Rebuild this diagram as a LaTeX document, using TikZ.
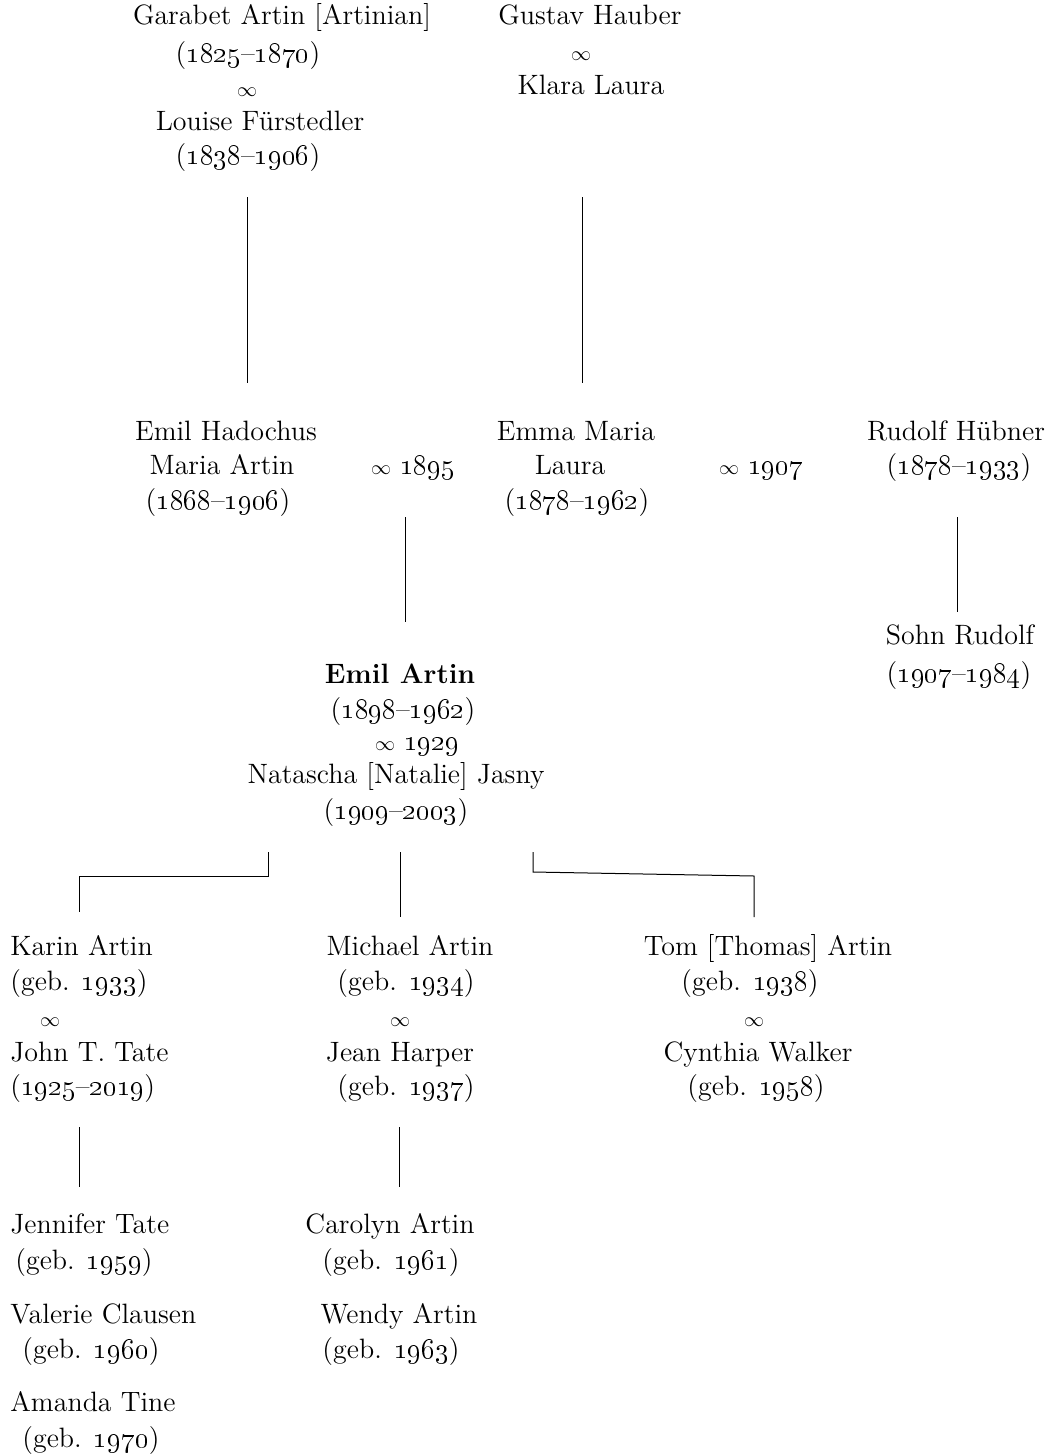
\documentclass[tikz,border=0pt]{standalone}
\newcommand\osn[1]{\oldstylenums{#1}}
\newcommand\inft{{\fontsize{10}{12}\selectfont$\infty$}}
\begin{document}
\begin{tikzpicture}[x=0.5pt,y=-0.5pt,
  txt/.style={font=\fontsize{14}{17}\selectfont, inner sep=0pt, anchor=base},
  lft/.style={txt, anchor=base west},
  conn/.style={line width=0.5pt}]
\useasboundingbox (0,0) rectangle (1057,1456);
% top generation
\node[txt] (g1) at (282,25) {Garabet Artin [Artinian]};
\node[txt] (g2) at (248,62) {(\osn{1825}--\osn{1870})};
\node[txt] (g3) at (247,96) {\inft};
\node[txt] (g4) at (260,130) {Louise Fürstedler};
\node[txt] (g5) at (248,164) {(\osn{1838}--\osn{1906})};
\node[txt] (h1) at (590,25) {Gustav Hauber};
\node[txt] (h2) at (581,61) {\inft};
\node[txt] (h3) at (591,94) {Klara Laura};
\coordinate (l1a) at (247,197); \coordinate (l1b) at (247,383);
\coordinate (l2a) at (582,197); \coordinate (l2b) at (582,383);
\draw[conn] (l1a) -- (l1b);
\draw[conn] (l2a) -- (l2b);
% second generation
\node[txt] (e1) at (226,440) {Emil Hadochus};
\node[txt] (e2) at (222,474) {Maria Artin};
\node[txt] (e3) at (218,509) {(\osn{1868}--\osn{1906})};
\node[txt] (m1) at (413,474) {\inft\ \osn{1895}};
\node[txt] (f1) at (576,440) {Emma Maria};
\node[txt] (f2) at (570,474) {Laura};
\node[txt] (f3) at (577,509) {(\osn{1878}--\osn{1962})};
\node[txt] (m2) at (761,474) {\inft\ \osn{1907}};
\node[txt] (r1) at (956,440) {Rudolf Hübner};
\node[txt] (r2) at (959,474) {(\osn{1878}--\osn{1933})};
\coordinate (l3a) at (405,517); \coordinate (l3b) at (405,622);
\coordinate (l4a) at (957,517); \coordinate (l4b) at (957,612);
\draw[conn] (l3a) -- (l3b);
\draw[conn] (l4a) -- (l4b);
\node[txt] (s1) at (960,644) {Sohn Rudolf};
\node[txt] (s2) at (959,682) {(\osn{1907}--\osn{1984})};
% Emil Artin
\node[txt] (a1) at (400,683) {\bfseries Emil Artin};
\node[txt] (a2) at (403,718) {(\osn{1898}--\osn{1962})};
\node[txt] (a3) at (417,750) {\inft\ \osn{1929}};
\node[txt] (a4) at (396,783) {Natascha [Natalie] Jasny};
\node[txt] (a5) at (396,819) {(\osn{1909}--\osn{2003})};
\coordinate (c1a) at (268,852); \coordinate (c1b) at (268,876);
\coordinate (c1c) at (79,876); \coordinate (c1d) at (79,912);
\draw[conn] (c1a) -- (c1b) -- (c1c) -- (c1d);
\coordinate (c2a) at (400,852); \coordinate (c2b) at (400,917);
\draw[conn] (c2a) -- (c2b);
\coordinate (c3a) at (533,852); \coordinate (c3b) at (533,872);
\coordinate (c3c) at (754,876); \coordinate (c3d) at (754,917);
\draw[conn] (c3a) -- (c3b) -- (c3c) -- (c3d);
% children
\node[lft] (k1) at (10,955) {Karin Artin};
\node[lft] (k2) at (10,990) {(geb. \osn{1933})};
\node[txt] (k3) at (50,1026) {\inft};
\node[lft] (k4) at (10,1061) {John T. Tate};
\node[lft] (k5) at (10,1095) {(\osn{1925}--\osn{2019})};
\node[txt] (mi1) at (410,955) {Michael Artin};
\node[txt] (mi2) at (406,990) {(geb. \osn{1934})};
\node[txt] (mi3) at (400,1026) {\inft};
\node[txt] (mi4) at (400,1061) {Jean Harper};
\node[txt] (mi5) at (406,1095) {(geb. \osn{1937})};
\node[txt] (t1) at (768,955) {Tom [Thomas] Artin};
\node[txt] (t2) at (750,990) {(geb. \osn{1938})};
\node[txt] (t3) at (754,1026) {\inft};
\node[txt] (t4) at (758,1061) {Cynthia Walker};
\node[txt] (t5) at (756,1095) {(geb. \osn{1958})};
\coordinate (d1a) at (79,1127); \coordinate (d1b) at (79,1187);
\coordinate (d2a) at (399,1127); \coordinate (d2b) at (399,1187);
\draw[conn] (d1a) -- (d1b);
\draw[conn] (d2a) -- (d2b);
% grandchildren
\node[lft] (j1) at (10,1233) {Jennifer Tate};
\node[lft] (j2) at (15,1269) {(geb. \osn{1959})};
\node[lft] (v1) at (10,1323) {Valerie Clausen};
\node[lft] (v2) at (22,1358) {(geb. \osn{1960})};
\node[lft] (am1) at (10,1411) {Amanda Tine};
\node[lft] (am2) at (22,1447) {(geb. \osn{1970})};
\node[txt] (cl1) at (390,1233) {Carolyn Artin};
\node[txt] (cl2) at (391,1269) {(geb. \osn{1961})};
\node[txt] (w1) at (399,1323) {Wendy Artin};
\node[txt] (w2) at (391,1358) {(geb. \osn{1963})};
\end{tikzpicture}
\end{document}
